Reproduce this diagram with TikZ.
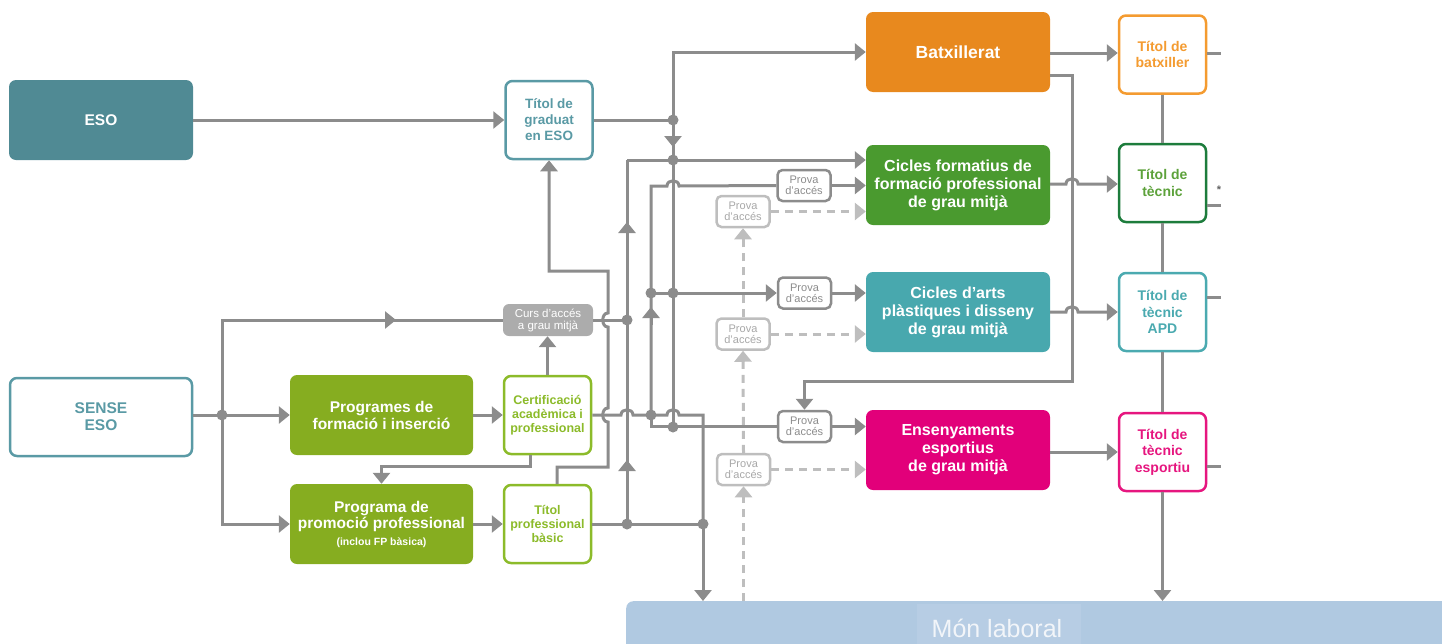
\documentclass[tikz,border=0pt]{standalone}
\usepackage{fontspec}
\setmainfont{Liberation Sans}
\usetikzlibrary{arrows.meta}
\definecolor{lngray}{HTML}{8C8C8C}
\definecolor{lightg}{HTML}{BEBEBE}
\definecolor{lightgt}{HTML}{A8A8A8}
\definecolor{esofill}{HTML}{508A94}
\definecolor{tealline}{HTML}{5A9AA5}
\definecolor{batxfill}{HTML}{E8891E}
\definecolor{batxline}{HTML}{F49B30}
\definecolor{cfgmfill}{HTML}{4A9A2F}
\definecolor{tecline}{HTML}{1D7C3C}
\definecolor{tectext}{HTML}{5DA23B}
\definecolor{artsfill}{HTML}{48A8AE}
\definecolor{artsline}{HTML}{4BAAB0}
\definecolor{espfill}{HTML}{E2007A}
\definecolor{espline}{HTML}{E6167F}
\definecolor{olive}{HTML}{86AD20}
\definecolor{oliveline}{HTML}{8CBB2A}
\definecolor{cursfill}{HTML}{ACACAC}
\definecolor{monfill}{HTML}{B0C9E1}
\definecolor{monlight}{HTML}{B7CDE4}
\definecolor{montext}{HTML}{F2F5F9}
\begin{document}
\begin{tikzpicture}[x=1pt,y=-1pt,
 bigbox/.style={rounded corners=7pt, minimum width=184pt, minimum height=80pt, inner sep=0pt, align=center, text=white, font=\bfseries\fontsize{16}{18}\selectfont},
 wbox/.style={rounded corners=7pt, minimum width=182pt, minimum height=78pt, inner sep=0pt, align=center, fill=white, line width=2.5pt, font=\bfseries\fontsize{15.5}{17}\selectfont},
 tbox/.style={rounded corners=7pt, minimum width=87pt, minimum height=78pt, inner sep=0pt, align=center, fill=white, line width=2.5pt, font=\bfseries\fontsize{14}{16.5}\selectfont},
 cbox/.style={tbox, draw=oliveline, text=oliveline, font=\bfseries\fontsize{12.5}{14}\selectfont},
 prova/.style={rounded corners=5pt, minimum width=53pt, minimum height=31pt, inner sep=0pt, align=center, fill=white, line width=2.5pt, draw=lngray, text=lngray, font=\fontsize{11}{11}\selectfont},
 provl/.style={prova, draw=lightg, text=lightgt},
 ln/.style={draw=lngray, line width=3pt},
 arr/.style={ln, -{Triangle[width=17pt,length=11pt]}},
 dsh/.style={draw=lightg, line width=3pt, dash pattern=on 8pt off 6pt, -{Triangle[width=17pt,length=11pt]}},
 jdot/.style={circle, fill=lngray, minimum size=11pt, inner sep=0pt}
]
\useasboundingbox (0,0) rectangle (1442,643);
\clip (0,0) rectangle (1442,643);

% ---- bottom band
\node[fill=monfill, rounded corners=7pt, minimum width=830pt, minimum height=70pt, anchor=north west, inner sep=0pt] (mon) at (626,601) {};
\node[fill=monlight, minimum width=164pt, minimum height=40pt, inner sep=0pt, anchor=north] (monlab) at (999,604) {};
\node[text=montext, font=\fontsize{25}{27}\selectfont, anchor=base, inner sep=0pt] (montxt) at (997,637) {Món laboral};

% ---- boxes
\node[bigbox, fill=esofill, font=\bfseries\fontsize{15.5}{17}\selectfont] (eso) at (101,120) {ESO};
\node[wbox, draw=tealline, text=tealline] (sense) at (101,417) {SENSE\\ESO};
\node[tbox, draw=tealline, text=tealline, font=\bfseries\fontsize{13.5}{16}\selectfont] (grad) at (549,120) {Títol de\\graduat\\en ESO};
\node[bigbox, fill=batxfill, font=\bfseries\fontsize{17.5}{19}\selectfont] (batx) at (958,52) {Batxillerat};
\node[bigbox, fill=cfgmfill] (cfgm) at (958,185) {Cicles formatius de\\formació professional\\de grau mitjà};
\node[bigbox, fill=artsfill] (arts) at (958,312) {Cicles d’arts\\plàstiques i disseny\\de grau mitjà};
\node[bigbox, fill=espfill] (esp) at (958,450) {Ensenyaments\\esportius\\de grau mitjà};
\node[tbox, draw=batxline, text=batxline] (tbatx) at (1162.5,54.5) {Títol de\\batxiller};
\node[tbox, draw=tecline, text=tectext] (ttec) at (1162.5,183) {Títol de\\tècnic};
\node[tbox, draw=artsline, text=artsline] (tapd) at (1162.5,312) {Títol de\\tècnic\\APD};
\node[tbox, draw=espline, text=espline] (tesp) at (1162.5,452) {Títol de\\tècnic\\esportiu};
\node[bigbox, fill=olive, minimum width=183pt, font=\bfseries\fontsize{15.5}{17}\selectfont] (pfi) at (381.5,415) {Programes de\\formació i inserció};
\node[bigbox, fill=olive, minimum width=183pt, font=\bfseries\fontsize{15.5}{16.5}\selectfont] (ppp) at (381.5,524) {Programa de\\promoció professional\\{\fontsize{10.5}{13}\selectfont (inclou FP bàsica)}};
\node[cbox] (cert) at (547.5,415) {Certificació\\acadèmica i\\professional};
\node[cbox] (tpb) at (547.5,524) {Títol\\professional\\bàsic};
\node[rounded corners=6pt, fill=cursfill, text=white, minimum width=90pt, minimum height=32pt, inner sep=0pt, align=center, font=\fontsize{11.5}{12}\selectfont] (curs) at (548,320) {Curs d’accés\\a grau mitjà};
\node[prova] (p1) at (804,185.5) {Prova\\d’accés};
\node[provl] (p1l) at (743,211.5) {Prova\\d’accés};
\node[prova] (p2) at (804.5,293) {Prova\\d’accés};
\node[provl] (p2l) at (743,334) {Prova\\d’accés};
\node[prova] (p3) at (804.5,426.5) {Prova\\d’accés};
\node[provl] (p3l) at (743.5,469.5) {Prova\\d’accés};
\node[text=lngray!70!black, font=\bfseries\fontsize{11}{11}\selectfont, inner sep=0pt] (star) at (1219,190) {*};

% ---- junction coordinates
\coordinate (j1) at (673,120);
\coordinate (j2) at (673,160);
\coordinate (j3) at (673,293);
\coordinate (j4) at (673,427);
\coordinate (j5) at (627,160);
\coordinate (j6) at (651,186);
\coordinate (j7) at (651,415);
\coordinate (j8) at (627,524);
\coordinate (j9) at (651,293);
\coordinate (j10) at (703,524);
\coordinate (j11) at (627,320);
\coordinate (j12) at (222,415);
\coordinate (c1) at (703,415);
\coordinate (c2) at (1072,381);

% ---- dashed access paths
\draw[dsh] (743.5,0 |- mon.north) -- (p3l.south);
\draw[dsh] (p3l.north) -- (p2l.south);
\draw[dsh] (p2l.north) -- (p1l.south);
\draw[dsh] (p1l.east) -- (cfgm.west |- p1l.east);
\draw[dsh] (p2l.east) -- (arts.west |- p2l.east);
\draw[dsh] (p3l.east) -- (esp.west |- p3l.east);

% ---- left part
\draw[arr] (eso.east) -- (grad.west);
\draw[ln] (sense.east |- j12) -- (j12);
\draw[arr] (j12) -- (pfi.west);
\draw[ln] (j12) |- (curs.west);
\draw[arr] (370,320) -- (396,320);
\draw[arr] (j12) |- (ppp.west);
\draw[arr] (pfi.east) -- (cert.west);
\draw[arr] (ppp.east |- j8) -- (tpb.west |- j8);
\draw[arr] (cert.north) -- (cert.north |- curs.south);
\draw[arr] (530,0 |- cert.south) -- (530,466) -| (ppp.north);
\draw[arr] (557,0 |- tpb.north) -- (557,467) -- (608,467) -- (608,422)
   .. controls (601,422) and (601,408) .. (608,408) -- (608,327)
   .. controls (601,327) and (601,313) .. (608,313) -- (608,271) -- (grad.south |- 0,271) -- (grad.south);

% ---- central network
\draw[ln] (grad.east) -- (j1);
\draw[arr] (j1) |- (batx.west);
\draw[ln] (j1) -- (j4);
\draw[arr] (673,128) -- (673,147);
\draw[arr] (j5) -- (cfgm.west |- j5);
\draw[ln] (j8) -- (j5);
\draw[arr] (627,240) -- (627,222);
\draw[arr] (627,478) -- (627,460);
\draw[ln] (curs.east) -- (j11);
\draw[ln] (j7) -- (j6) -- (667,186) .. controls (667,179) and (679,179) .. (679,186) -- (p1.west);
\draw[arr] (p1.east) -- (cfgm.west |- p1.east);
\draw[arr] (651,325) -- (651,307);
\draw[arr] (j9) -- (p2.west);
\draw[arr] (p2.east) -- (arts.west |- p2.east);
\draw[ln] (cert.east) -- (621,415) .. controls (621,408) and (633,408) .. (633,415) -- (j7)
   -- (667,415) .. controls (667,408) and (679,408) .. (679,415) -- (c1) -- (j10);
\draw[arr] (j10) -- (j10 |- mon.north);
\draw[ln] (j7) -- (651,0 |- p3.west) -- (p3.west);
\draw[arr] (p3.east) -- (esp.west |- p3.east);
\draw[ln] (tpb.east |- j8) -- (j8) -- (j10);

% ---- right part
\draw[arr] (batx.east |- 0,53) -- (tbatx.west |- 0,53);
\draw[arr] (batx.east |- 0,75) -| (c2) -| (p3.north);
\draw[arr] (cfgm.east |- 0,184) -- (1066,184) .. controls (1066,177) and (1078,177) .. (1078,184) -- (ttec.west |- 0,184);
\draw[arr] (arts.east |- 0,312) -- (1066,312) .. controls (1066,305) and (1078,305) .. (1078,312) -- (tapd.west |- 0,312);
\draw[arr] (esp.east |- 0,452) -- (tesp.west |- 0,452);
\draw[ln] (tbatx.south) -- (ttec.north);
\draw[ln] (ttec.south) -- (tapd.north);
\draw[ln] (tapd.south) -- (tesp.north);
\draw[arr] (tesp.south) -- (tesp.south |- mon.north);
\draw[ln] (tbatx.east |- 0,53) -- (1221,53);
\draw[ln] (ttec.east |- 0,205) -- (1221,205);
\draw[ln] (tapd.east |- 0,297) -- (1221,297);
\draw[ln] (tesp.east |- 0,466) -- (1221,466);

% ---- junction dots
\foreach \j in {j1,j2,j3,j4,j7,j8,j9,j10,j11,j12} \node[jdot] at (\j) {};
\end{tikzpicture}
\end{document}
